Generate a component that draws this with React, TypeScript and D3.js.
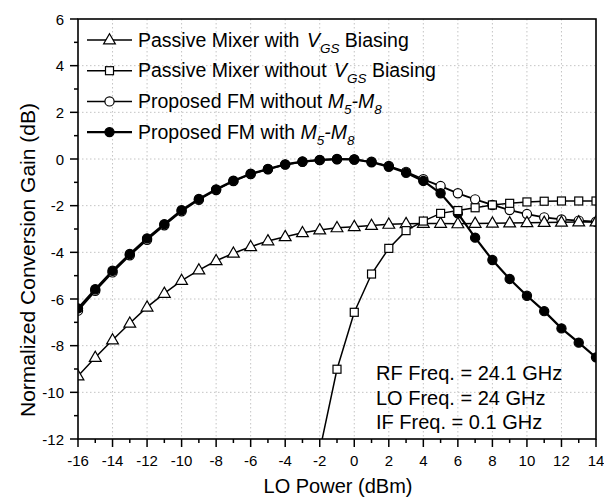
import { useRef, useEffect } from 'react';
import * as d3 from 'd3';

const LO_POWER = [-16, -15, -14, -13, -12, -11, -10, -9, -8, -7, -6, -5, -4, -3, -2, -1, 0, 1, 2, 3, 4, 5, 6, 7, 8, 9, 10, 11, 12, 13, 14];

const PASSIVE_WITH_VGS = [-9.3, -8.51, -7.76, -7.04, -6.35, -5.76, -5.21, -4.76, -4.36, -4.04, -3.76, -3.51, -3.33, -3.16, -3.04, -2.95, -2.9, -2.85, -2.8, -2.77, -2.76, -2.76, -2.78, -2.76, -2.75, -2.74, -2.73, -2.72, -2.71, -2.7, -2.7];

const PASSIVE_NO_VGS_X = [-2, -1, 0, 1, 2, 3, 4, 5, 6, 7, 8, 9, 10, 11, 12, 13, 14];
const PASSIVE_NO_VGS = [-12.5, -9.01, -6.57, -4.93, -3.83, -3.07, -2.66, -2.33, -2.21, -2.09, -1.97, -1.9, -1.84, -1.81, -1.8, -1.8, -1.8];

const FM_WITHOUT_M58 = [-6.5, -5.65, -4.86, -4.13, -3.46, -2.84, -2.24, -1.75, -1.33, -0.95, -0.65, -0.44, -0.24, -0.12, -0.05, -0.01, -0.02, -0.12, -0.3, -0.55, -0.87, -1.16, -1.47, -1.73, -1.97, -2.19, -2.36, -2.5, -2.59, -2.64, -2.69];

const FM_WITH_M58 = [-6.4, -5.58, -4.79, -4.07, -3.4, -2.79, -2.19, -1.71, -1.3, -0.93, -0.63, -0.43, -0.23, -0.11, -0.04, 0, -0.02, -0.14, -0.33, -0.59, -0.94, -1.47, -2.33, -3.37, -4.33, -5.14, -5.86, -6.52, -7.26, -7.87, -8.5];

const X_TICKS = [-16, -14, -12, -10, -8, -6, -4, -2, 0, 2, 4, 6, 8, 10, 12, 14];
const Y_TICKS = [-12, -10, -8, -6, -4, -2, 0, 2, 4, 6];

const NOTES = ['RF Freq. = 24.1 GHz', 'LO Freq. = 24 GHz', 'IF Freq. = 0.1 GHz'];

type Marker = 'triangle' | 'square' | 'openCircle' | 'filledCircle';

const FONT = '"Liberation Sans", Arial, sans-serif';

export default function App() {
  const svgRef = useRef<SVGSVGElement>(null);

  useEffect(() => {
    if (!svgRef.current) return;
    const width = 604;
    const height = 500;
    const plot = { left: 78, right: 596, top: 19, bottom: 439 };

    const svg = d3.select(svgRef.current);
    svg.selectAll('*').remove();

    const x = d3.scaleLinear().domain([-16, 14]).range([plot.left, plot.right]);
    const y = d3.scaleLinear().domain([-12, 6]).range([plot.bottom, plot.top]);

    svg.append('rect').attr('width', width).attr('height', height).attr('fill', 'white');

    svg.append('defs').append('clipPath').attr('id', 'plot-clip')
      .append('rect')
      .attr('x', plot.left).attr('y', plot.top)
      .attr('width', plot.right - plot.left).attr('height', plot.bottom - plot.top);

    // dotted grid
    const grid = svg.append('g').attr('stroke', '#c4c4c4').attr('stroke-width', 1).attr('stroke-dasharray', '1.5,2.5');
    X_TICKS.slice(1, -1).forEach(t => {
      grid.append('line').attr('x1', x(t)).attr('x2', x(t)).attr('y1', plot.top).attr('y2', plot.bottom);
    });
    Y_TICKS.slice(1, -1).forEach(t => {
      grid.append('line').attr('x1', plot.left).attr('x2', plot.right).attr('y1', y(t)).attr('y2', y(t));
    });

    // ticks (outward), major + minor
    const ticks = svg.append('g').attr('stroke', 'black').attr('stroke-width', 1.5);
    d3.range(-16, 14.01, 1).forEach(t => {
      const major = t % 2 === 0;
      ticks.append('line').attr('x1', x(t)).attr('x2', x(t))
        .attr('y1', plot.bottom).attr('y2', plot.bottom + (major ? 8 : 4));
    });
    d3.range(-12, 6.01, 1).forEach(t => {
      const major = t % 2 === 0;
      ticks.append('line').attr('y1', y(t)).attr('y2', y(t))
        .attr('x1', plot.left).attr('x2', plot.left - (major ? 8 : 4));
    });

    // tick labels
    svg.append('g').selectAll('text').data(X_TICKS).join('text')
      .attr('x', d => x(d)).attr('y', 466)
      .attr('text-anchor', 'middle')
      .attr('font-family', FONT).attr('font-size', 15)
      .text(d => d);
    svg.append('g').selectAll('text').data(Y_TICKS).join('text')
      .attr('x', 64).attr('y', d => y(d) + 5.5)
      .attr('text-anchor', 'end')
      .attr('font-family', FONT).attr('font-size', 15)
      .text(d => d);

    // axis titles
    svg.append('text')
      .attr('x', 338).attr('y', 493)
      .attr('text-anchor', 'middle')
      .attr('font-family', FONT).attr('font-size', 20)
      .text('LO Power (dBm)');
    svg.append('text')
      .attr('transform', `translate(35,${260}) rotate(-90)`)
      .attr('text-anchor', 'middle')
      .attr('font-family', FONT).attr('font-size', 21)
      .text('Normalized Conversion Gain (dB)');

    const drawMarker = (g: d3.Selection<SVGGElement, unknown, null, undefined>, kind: Marker, cx: number, cy: number) => {
      if (kind === 'triangle') {
        g.append('path')
          .attr('d', d3.symbol(d3.symbolTriangle, 60)())
          .attr('transform', `translate(${cx},${cy + 0.5})`)
          .attr('fill', 'white').attr('stroke', 'black').attr('stroke-width', 1.2);
      } else if (kind === 'square') {
        g.append('rect')
          .attr('x', cx - 4).attr('y', cy - 4).attr('width', 8).attr('height', 8)
          .attr('fill', 'white').attr('stroke', 'black').attr('stroke-width', 1.2);
      } else {
        g.append('circle')
          .attr('cx', cx).attr('cy', cy).attr('r', 4.6)
          .attr('fill', kind === 'filledCircle' ? 'black' : 'white')
          .attr('stroke', 'black').attr('stroke-width', 1.2);
      }
    };

    const series: { xs: number[]; ys: number[]; marker: Marker; lw: number }[] = [
      { xs: LO_POWER, ys: FM_WITHOUT_M58, marker: 'openCircle', lw: 1.8 },
      { xs: LO_POWER, ys: FM_WITH_M58, marker: 'filledCircle', lw: 2.2 },
      { xs: LO_POWER, ys: PASSIVE_WITH_VGS, marker: 'triangle', lw: 1.5 },
      { xs: PASSIVE_NO_VGS_X, ys: PASSIVE_NO_VGS, marker: 'square', lw: 1.5 },
    ];

    const line = d3.line<[number, number]>().x(d => x(d[0])).y(d => y(d[1]));
    const plotG = svg.append('g').attr('clip-path', 'url(#plot-clip)');
    series.forEach(s => {
      const pts = s.xs.map((v, i) => [v, s.ys[i]] as [number, number]);
      plotG.append('path').attr('d', line(pts)).attr('fill', 'none')
        .attr('stroke', 'black').attr('stroke-width', s.lw);
      const mg = plotG.append('g');
      pts.forEach(p => drawMarker(mg, s.marker, x(p[0]), y(p[1])));
    });

    // frame
    svg.append('rect')
      .attr('x', plot.left).attr('y', plot.top)
      .attr('width', plot.right - plot.left).attr('height', plot.bottom - plot.top)
      .attr('fill', 'none').attr('stroke', 'black').attr('stroke-width', 1.6);

    // legend
    const legendRows: { marker: Marker; lw: number }[] = [
      { marker: 'triangle', lw: 1.5 },
      { marker: 'square', lw: 1.5 },
      { marker: 'openCircle', lw: 1.5 },
      { marker: 'filledCircle', lw: 2.2 },
    ];
    const lg = svg.append('g');
    legendRows.forEach((r, i) => {
      const cy = 40 + i * 30.7;
      lg.append('line').attr('x1', 87).attr('x2', 132).attr('y1', cy).attr('y2', cy)
        .attr('stroke', 'black').attr('stroke-width', r.lw);
      drawMarker(lg, r.marker, 109.5, cy);
      const t = lg.append('text').attr('x', 138).attr('y', cy + 6.6)
        .attr('font-family', FONT).attr('font-size', 19.5);
      if (i < 2) {
        t.append('tspan').text(i === 0 ? 'Passive Mixer with ' : 'Passive Mixer without ');
        t.append('tspan').attr('font-style', 'italic').attr('dx', 2).text('V');
        t.append('tspan').attr('font-style', 'italic').attr('font-size', 13.5).attr('dy', 6).text('GS');
        t.append('tspan').attr('dy', -6).text(' Biasing');
      } else {
        t.append('tspan').text(i === 2 ? 'Proposed FM without ' : 'Proposed FM with ');
        t.append('tspan').attr('font-style', 'italic').text('M');
        t.append('tspan').attr('font-style', 'italic').attr('font-size', 13.5).attr('dy', 6).text('5');
        t.append('tspan').attr('font-style', 'italic').attr('dy', -6).text('-M');
        t.append('tspan').attr('font-style', 'italic').attr('font-size', 13.5).attr('dy', 6).text('8');
      }
    });

    // operating conditions
    svg.append('g').selectAll('text').data(NOTES).join('text')
      .attr('x', 376).attr('y', (_, i) => 380 + i * 24.7)
      .attr('font-family', FONT).attr('font-size', 20)
      .text(d => d);
  }, []);

  return (
    <div style={{ position: 'absolute', left: 0, top: 0 }}>
      <svg ref={svgRef} width={604} height={500} style={{ display: 'block' }} />
    </div>
  );
}
